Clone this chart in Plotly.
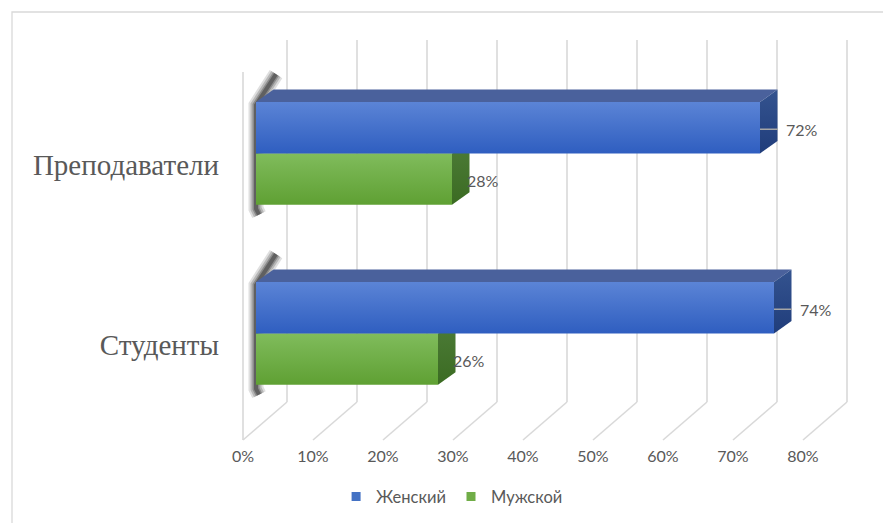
import plotly.graph_objects as go

# ---- data -------------------------------------------------------------
categories = ["Студенты", "Преподаватели"]
series_names = ["Женский", "Мужской"]
female = [74, 72]          # % women
male = [26, 28]            # % men
tick_values = [0, 10, 20, 30, 40, 50, 60, 70, 80]
tick_labels = ["0%", "10%", "20%", "30%", "40%", "50%", "60%", "70%", "80%"]

# ---- layout geometry ----------------------------------------------------
W, H = 883, 523
ML, MR, MT, MB = 236, 10, 30, 78
X_RANGE = [-1, 90]
PX_X = (W - ML - MR) / (X_RANGE[1] - X_RANGE[0])      # px per % unit
PX_Y = 180.0                                             # px per category band
Y_RANGE = [-5 / PX_Y, (H - MT - MB - 5) / PX_Y]


def ux(px):
    return px / PX_X


def uy(px):
    return px / PX_Y


# oblique projection: full floor depth, bar front offset, bar thickness
DEPTH = (ux(44), uy(38))
BAR_FRONT = (ux(13), uy(11.2))
BAR_DEPTH = (ux(17.5), uy(12.5))
FRONT_TOP = uy(368)
BACK_TOP = uy(362)
CAT_Y = [0.53, 1.53]
BAR_H = uy(51.3)

GRID = "#d9d9d9"
TEXT = "#595959"
SANS = "Lato, 'Open Sans', sans-serif"

STYLE = {
    "Женский": dict(front=("#2f5ec0", "#5b84d6"), top="#4a619c",
                    side=("#203d7b", "#34538f"), legend="#4472c4", gap=24),
    "Мужской": dict(front=("#5fa033", "#80bc5c"), top="#5e8a43",
                    side=("#3b6b22", "#4d7c38"), legend="#70ad47", gap=13),
}

fig = go.Figure()


def poly(xs, ys, **kw):
    fig.add_trace(go.Scatter(x=list(xs) + [xs[0]], y=list(ys) + [ys[0]],
                             mode="lines", fill="toself", hoverinfo="skip",
                             showlegend=False, **kw))


# ---- walls & floor gridlines --------------------------------------------
gx, gy = [], []
for v in tick_values:
    # floor diagonal
    gx += [v, v + DEPTH[0], None]
    gy += [0, DEPTH[1], None]
    # back wall vertical
    gx += [v + DEPTH[0], v + DEPTH[0], None]
    gy += [DEPTH[1], DEPTH[1] + BACK_TOP, None]
# front edge of the side wall
gx += [0, 0, None]
gy += [0, FRONT_TOP, None]
fig.add_trace(go.Scatter(x=gx, y=gy, mode="lines", hoverinfo="skip",
                         line=dict(color=GRID, width=1.6), showlegend=False))


# ---- bars ---------------------------------------------------------------
def shadow(cy_top, cy_bot):
    """Soft shadow at the left end of a bar pair: stacked translucent strokes."""
    fx, fy = BAR_FRONT
    x0, yt, yb = fx, cy_top + fy, cy_bot + fy
    spine_top = [(20, -28), (0, 3)]
    spine_bot = [(0, 4), (3, 10)]
    xs = [x0 + ux(a) for a, b in spine_top] + [x0 + ux(a) for a, b in spine_bot]
    ys = [yt - uy(b) for a, b in spine_top] + [yb - uy(b) for a, b in spine_bot]
    for w, a in [(15, 0.14), (11, 0.2), (7, 0.28), (4, 0.38)]:
        fig.add_trace(go.Scatter(x=xs, y=ys, mode="lines", hoverinfo="skip",
                                 showlegend=False,
                                 line=dict(color=f"rgba(25,25,25,{a})", width=w)))


def bar(value, lo, hi, st):
    fx, fy = BAR_FRONT
    bx, by = fx + BAR_DEPTH[0], fy + BAR_DEPTH[1]
    # top face
    poly([fx, value + fx, value + bx, bx],
         [hi + fy, hi + fy, hi + by, hi + by],
         fillcolor=st["top"], line=dict(width=0, color=st["top"]))
    # right face
    poly([value + fx, value + bx, value + bx, value + fx],
         [hi + fy, hi + by, lo + by, lo + fy],
         line=dict(width=0, color=st["side"][0]),
         fillgradient=dict(type="vertical",
                           colorscale=[[0, st["side"][0]], [1, st["side"][1]]]))
    # front face
    poly([fx, value + fx, value + fx, fx],
         [lo + fy, lo + fy, hi + fy, hi + fy],
         line=dict(width=0, color=st["front"][0]),
         fillgradient=dict(type="vertical",
                           colorscale=[[0, st["front"][0]], [1, st["front"][1]]]))


annotations = []
for i, cat in enumerate(categories):
    c = CAT_Y[i]
    shadow(c + BAR_H, c - BAR_H)
    groups = [("Мужской", male[i], c - BAR_H, c),
              ("Женский", female[i], c, c + BAR_H)]
    for name, v, lo, hi in groups:
        bar(v, lo, hi, STYLE[name])
    for name, v, lo, hi in groups:
        st = STYLE[name]
        yc = (lo + hi) / 2 + BAR_FRONT[1] - uy(1.5)
        xr = v + BAR_FRONT[0]
        if name == "Женский":
            fig.add_trace(go.Scatter(x=[xr, xr + ux(18)], y=[yc, yc],
                                     mode="lines", hoverinfo="skip",
                                     line=dict(color="#a6a6a6", width=1.5),
                                     showlegend=False))
        annotations.append(dict(x=xr + ux(st["gap"]), y=yc, xref="x", yref="y",
                                text=f"{v}%", showarrow=False,
                                xanchor="left", yanchor="middle",
                                font=dict(family=SANS, size=16, color=TEXT)))

# ---- legend entries -----------------------------------------------------
for name in series_names:
    fig.add_trace(go.Scatter(x=[None], y=[None], mode="markers", name=name,
                             marker=dict(symbol="square", size=9,
                                         color=STYLE[name]["legend"])))

# chart frame
frame_x0 = (12 - ML) / (W - ML - MR)
frame_x1 = (W + 5 - ML) / (W - ML - MR)
frame_y0 = -(MB + 10) / (H - MT - MB)
frame_y1 = (H - MB - 12) / (H - MT - MB)

fig.update_layout(
    width=W, height=H,
    margin=dict(l=ML, r=MR, t=MT, b=MB, pad=0),
    paper_bgcolor="white", plot_bgcolor="white",
    hovermode=False,
    xaxis=dict(range=X_RANGE, tickvals=tick_values, ticktext=tick_labels,
               showgrid=False, zeroline=False, showline=False, ticks="",
               tickfont=dict(family=SANS, size=16, color=TEXT),
               fixedrange=True),
    yaxis=dict(range=Y_RANGE, tickvals=CAT_Y, ticktext=categories,
               showgrid=False, zeroline=False, showline=False, ticks="",
               ticklabelstandoff=16,
               tickfont=dict(family="'Liberation Serif', 'Times New Roman', serif",
                             size=29, color=TEXT),
               fixedrange=True),
    legend=dict(orientation="h", xref="container", yref="container",
                x=0.512, xanchor="center", y=0.05, yanchor="middle",
                font=dict(family=SANS, size=16.5, color=TEXT),
                itemwidth=30, bgcolor="rgba(0,0,0,0)"),
    annotations=annotations,
    shapes=[dict(type="rect", xref="paper", yref="paper",
                 x0=frame_x0, x1=frame_x1, y0=frame_y0, y1=frame_y1,
                 line=dict(color=GRID, width=1.3), layer="below")],
)

fig.write_html("out.html", config={"displayModeBar": False})
